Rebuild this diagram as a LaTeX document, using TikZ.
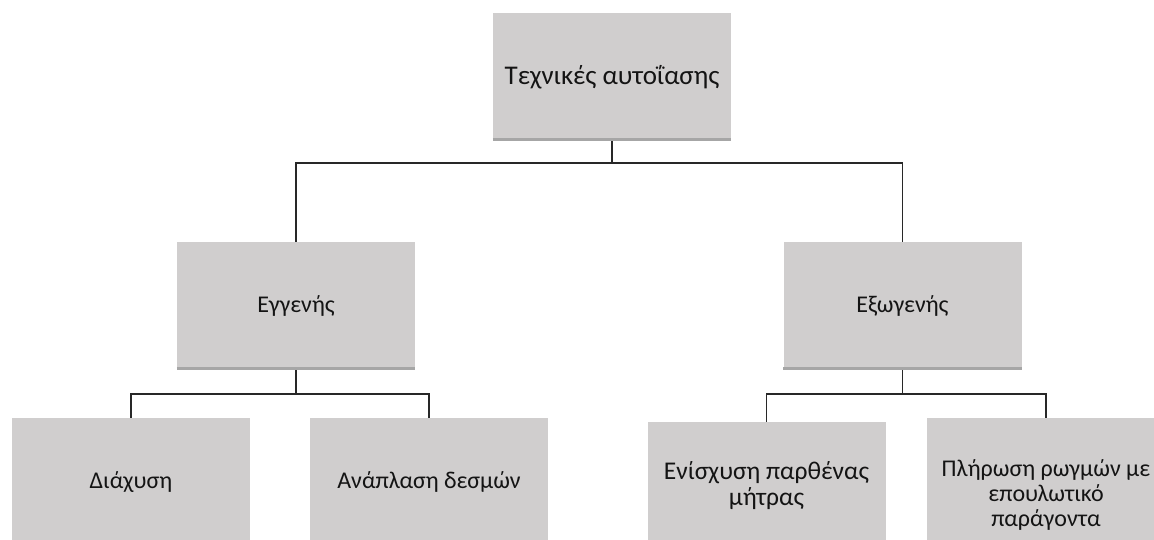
\documentclass[tikz,border=0pt]{standalone}
\usepackage{fontspec}
\setmainfont{Carlito}
\begin{document}
\begin{tikzpicture}[x=1pt,y=-1pt,
  box/.style={draw=none,fill=boxgray,minimum width=238pt,minimum height=128pt,inner sep=0pt,
    align=center,text=txt,font=\fontsize{24}{26}\selectfont},
  shade/.style={draw=shadegray,line width=3pt},
  conn/.style={draw=linec,line width=1.2pt}]
\definecolor{boxgray}{RGB}{208,206,206}
\definecolor{shadegray}{RGB}{166,166,166}
\definecolor{linec}{RGB}{40,40,40}
\definecolor{txt}{RGB}{20,20,20}
\useasboundingbox (0,0) rectangle (1154,540);
\fill[white] (0,0) rectangle (1154,540);
\node[box,font=\fontsize{27}{29}\selectfont] (top) at (612,77) {Τεχνικές αυτοΐασης};
\node[box] (l) at (296,306) {Εγγενής};
\node[box] (r) at (902.5,306) {Εξωγενής};
\node[box] (ll) at (131,482) {Διάχυση};
\node[box] (lr) at (429,482) {Ανάπλαση δεσμών};
\node[box,font=\fontsize{25.5}{26}\selectfont] (rl) at (766.5,486) {Ενίσχυση παρθένας\\μήτρας};
\node[box] (rr) at (1046,482) {};
\node[align=center,text=txt,font=\fontsize{24}{25}\selectfont,inner sep=0pt] (rrt) at (1046,495) {Πλήρωση ρωγμών με\\επουλωτικό\\παράγοντα};
\foreach \n in {top,l,r}{\draw[shade] ([yshift=1.5pt]\n.south west) -- ([yshift=1.5pt]\n.south east);}
\coordinate (j0) at (612,163);
\coordinate (j1) at (296,394);
\coordinate (j2) at (902.5,394);
\draw[conn] (top.south) -- (j0) -| (l.north);
\draw[conn] (j0) -| (r.north);
\draw[conn] (l.south) -- (j1) -| (ll.north);
\draw[conn] (j1) -| (lr.north);
\draw[conn] (r.south) -- (j2) -| (rl.north);
\draw[conn] (j2) -| (rr.north);
\end{tikzpicture}
\end{document}
